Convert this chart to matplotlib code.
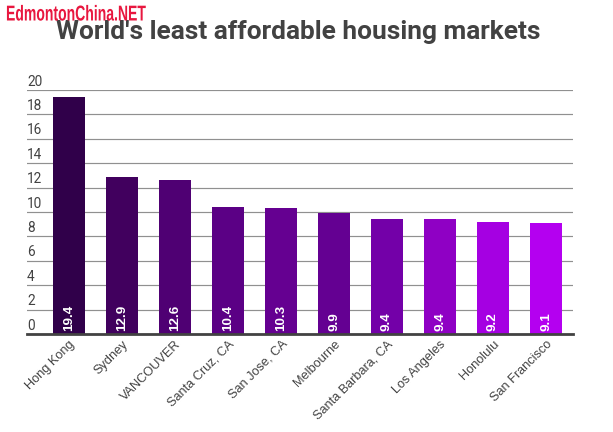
import matplotlib
matplotlib.use('Agg')
import matplotlib.pyplot as plt
from matplotlib.colors import to_rgb
from matplotlib.patheffects import AbstractPathEffect
from matplotlib.transforms import Affine2D
import numpy as np

ciudades = ['Hong Kong', 'Sydney', 'VANCOUVER', 'Santa Cruz, CA', 'San Jose, CA',
            'Melbourne', 'Santa Barbara, CA', 'Los Angeles', 'Honolulu', 'San Francisco']
valores = [19.4, 12.9, 12.6, 10.4, 10.3, 9.9, 9.4, 9.4, 9.2, 9.1]
marcas_y = [0, 2, 4, 6, 8, 10, 12, 14, 16, 18, 20]
colores = ['#30004a', '#41005e', '#4f0073', '#5b0085', '#650091',
           '#640092', '#7300a8', '#8f00c4', '#a500e2', '#b400f0']

W, H = 613, 432
gris = '#424242'


# angosta el texto en horizontal, la marca de agua usa una letra condensada
class Estrecho(AbstractPathEffect):
    def __init__(self, x0, escala):
        super().__init__()
        self.x0 = x0
        self.escala = escala

    def draw_path(self, renderer, gc, tpath, affine, rgbFace=None):
        t = affine + Affine2D().translate(-self.x0, 0).scale(self.escala, 1).translate(self.x0, 0)
        renderer.draw_path(gc, tpath, t, rgbFace)


fig = plt.figure(figsize=(W / 100, H / 100), dpi=100)
# ejes en pixeles: x 27-573, y 90-334
ax = fig.add_axes([27 / W, 1 - 334 / H, 546 / W, 244 / H])

x = np.arange(len(valores))
ax.bar(x, valores, width=32 / 53, color=[to_rgb(c) for c in colores], zorder=3)

ax.set_xlim(-42 / 53, 504 / 53)
ax.set_ylim(0, 20)
ax.set_yticks(marcas_y)
ax.tick_params(axis='y', length=0, labelleft=False)
ax.tick_params(axis='x', length=0, pad=3)
ax.grid(axis='y', color='#909090', lw=0.85, zorder=1)
for lado in ['top', 'right', 'left']:
    ax.spines[lado].set_visible(False)
ax.spines['bottom'].set_color(gris)
ax.spines['bottom'].set_linewidth(2)
ax.spines['bottom'].set_zorder(4)

ax.set_xticks(x)
ax.set_xticklabels(ciudades, rotation=45, ha='right', va='top', rotation_mode='anchor',
                   family='Liberation Sans', fontsize=9.2, color=gris)

for m in marcas_y:
    ax.annotate(str(m), (0, m), xycoords=ax.get_yaxis_transform(), xytext=(0, 1),
                textcoords='offset points', family='Roboto', fontsize=9.8,
                color=gris, ha='left', va='bottom', annotation_clip=False)

for xi, v in zip(x, valores):
    ax.annotate(str(v), (xi, 0), xytext=(0, 2.5), textcoords='offset points', rotation=90,
                ha='center', va='bottom', color='white', fontsize=9.6, fontweight='bold',
                family='Liberation Sans', zorder=5)

fig.text(298 / W, 1 - 32.5 / H, "World's least affordable housing markets", family='Roboto',
         fontweight='bold', fontsize=18.9, color=gris, ha='center', va='center')
fig.text(6 / W, 1 - 15 / H, 'EdmontonChina.NET', family='Liberation Sans', fontweight='bold',
         fontsize=15.5, color='#e8173f', ha='left', va='center',
         path_effects=[Estrecho(6, 0.65)])

fig.savefig('out.png', dpi=100)
